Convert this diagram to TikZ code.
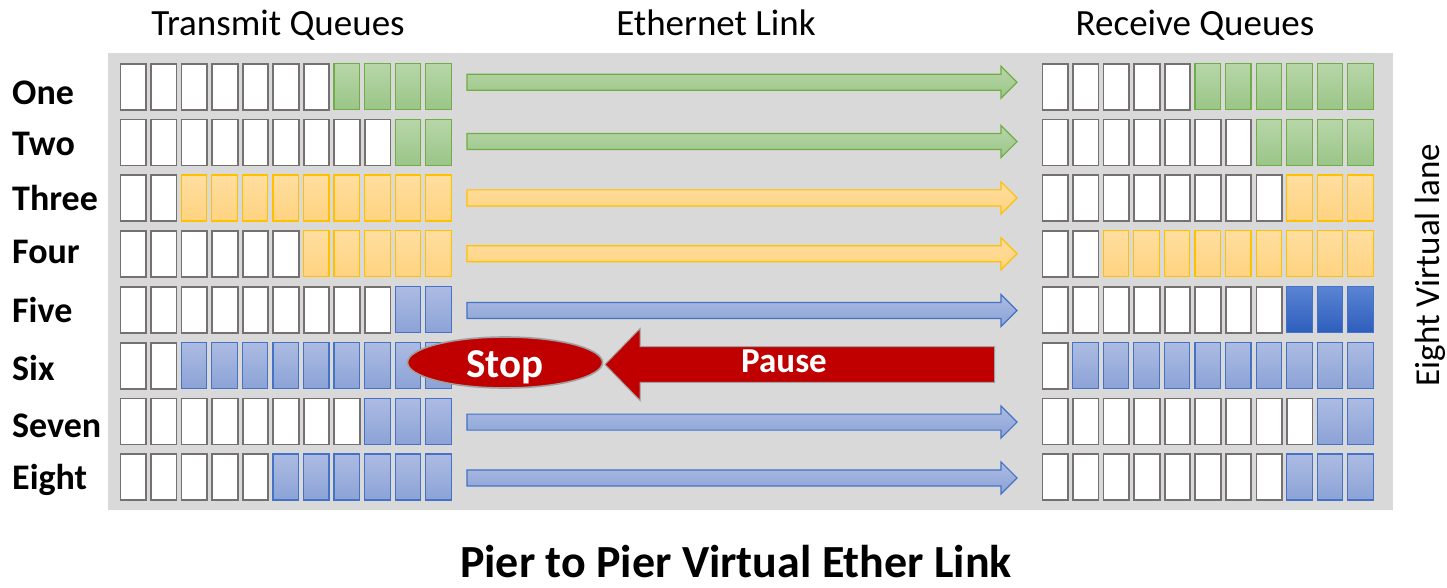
\documentclass[tikz,border=0pt]{standalone}
\usepackage{fontspec}
\setmainfont{Carlito}
\usetikzlibrary{shapes.geometric}
\definecolor{bg}{RGB}{217,217,217}
\definecolor{wbd}{RGB}{118,113,113}
\definecolor{gtop}{RGB}{183,214,168}
\definecolor{gbot}{RGB}{155,197,136}
\definecolor{gbd}{RGB}{112,173,71}
\definecolor{ytop}{RGB}{255,222,160}
\definecolor{ybot}{RGB}{255,211,128}
\definecolor{ybd}{RGB}{255,192,0}
\definecolor{btop}{RGB}{172,187,226}
\definecolor{bbot}{RGB}{140,163,215}
\definecolor{bbd}{RGB}{68,114,196}
\definecolor{dtop}{RGB}{90,132,211}
\definecolor{dbot}{RGB}{46,94,189}
\definecolor{stopred}{RGB}{192,0,0}
\definecolor{rimgray}{RGB}{160,160,160}
\newcommand\myfs[1]{\fontsize{#1}{#1}\selectfont}
\tikzset{
  qbox/.style={draw, minimum width=25.5pt, minimum height=46pt, inner sep=0pt, anchor=north west},
  wq/.style={qbox, draw=wbd, fill=white, line width=1.8pt},
  gq/.style={qbox, draw=gbd, top color=gtop, bottom color=gbot, line width=1.2pt},
  yq/.style={qbox, draw=ybd, top color=ytop, bottom color=ybot, line width=1.2pt},
  bq/.style={qbox, draw=bbd, top color=btop, bottom color=bbot, line width=1.2pt},
  dq/.style={qbox, draw=bbd, top color=dtop, bottom color=dbot, line width=1.2pt},
  qc/.code={\ifcase#1\tikzset{gq}\or\tikzset{yq}\or\tikzset{bq}\or\tikzset{dq}\or\tikzset{wq}\fi},
  ga/.style={draw=gbd, top color=gtop, bottom color=gbot, line width=1.2pt},
  ya/.style={draw=ybd, top color=ytop, bottom color=ybot, line width=1.2pt},
  ba/.style={draw=bbd, top color=btop, bottom color=bbot, line width=1.2pt},
  acol/.code={\ifcase#1\tikzset{ga}\or\tikzset{ya}\or\tikzset{ba}\fi},
  rowlab/.style={anchor=base west, inner sep=0pt, font=\myfs{36}\bfseries},
  title/.style={anchor=base, inner sep=0pt, font=\myfs{37}},
}
\begin{document}
\begin{tikzpicture}[x=1pt,y=-1pt]
\useasboundingbox (0,0) rectangle (1447,588);
\fill[bg] (108,53) rectangle (1392.5,510);
% queues
\foreach \row/\nl/\nr/\cl/\cr in {0/7/5/0/0, 1/9/7/0/0, 2/2/8/1/1, 3/6/2/1/1, 4/9/8/2/3, 5/2/1/2/2, 6/8/9/2/2, 7/5/8/2/2} {
  \foreach \i in {0,...,10} {
    \pgfmathsetmacro\xl{119.5+30.57*\i}
    \pgfmathsetmacro\xr{1041.5+30.57*\i}
    \pgfmathsetmacro\yy{62.8+55.8*\row}
    \ifnum\i<\nl \def\cc{4}\else\def\cc{\cl}\fi
    \ifnum\i<\nr \def\dd{4}\else\def\dd{\cr}\fi
    \node[qc=\cc] (L\row-\i) at (\xl,\yy) {};
    \node[qc=\dd] (R\row-\i) at (\xr,\yy) {};
  }
}
% link arrows
\foreach \row/\c/\dy in {0/0/-3.5, 1/0/0, 2/1/0.5, 3/1/0.5, 4/2/1.5, 6/2/1.5, 7/2/1.5} {
  \pgfmathsetmacro\yc{62.3+55.8*\row+23.5+\dy}
  \path[acol=\c] (467,\yc-8) -- (1001,\yc-8) -- (1001,\yc-16) -- (1017,\yc)
     -- (1001,\yc+16) -- (1001,\yc+8) -- (467,\yc+8) -- cycle;
}
% pause arrow
\path[fill=stopred, draw=rimgray, line width=1pt]
  (605,364.5) -- (640,328.5) -- (640,346.7) -- (994.5,346.7) -- (994.5,382.3)
  -- (640,382.3) -- (640,400.5) -- cycle;
\node[anchor=base, inner sep=0pt, text=white, font=\myfs{35}\bfseries] (pause) at (784,372.5) {Pause};
% stop ellipse
\node[ellipse, draw=rimgray, line width=1.6pt, fill=stopred, minimum width=195pt, minimum height=51pt, inner sep=0pt] (stopel) at (505,362.5) {};
\node[anchor=base, inner sep=0pt, text=white, font=\myfs{41}\bfseries] (stop) at (505,377) {Stop};
% titles
\node[title] (tq) at (278,36) {Transmit Queues};
\node[title] (el) at (716,36) {Ethernet Link};
\node[title] (rq) at (1195,36) {Receive Queues};
% row labels
\node[rowlab] (l1) at (12,105) {One};
\node[rowlab] (l2) at (12,156) {Two};
\node[rowlab] (l3) at (12,210.5) {Three};
\node[rowlab] (l4) at (12,263) {Four};
\node[rowlab] (l5) at (12,322.5) {Five};
\node[rowlab] (l6) at (12,380.5) {Six};
\node[rowlab] (l7) at (12,437.5) {Seven};
\node[rowlab] (l8) at (12,489) {Eight};
% side label
\node[rotate=90, anchor=base, inner sep=0pt, font=\myfs{35}] (side) at (1439,265) {Eight Virtual lane};
% bottom title
\node[anchor=base, inner sep=0pt, font=\myfs{46}\bfseries] (bt) at (736,577) {Pier to Pier Virtual Ether Link};
\end{tikzpicture}
\end{document}
